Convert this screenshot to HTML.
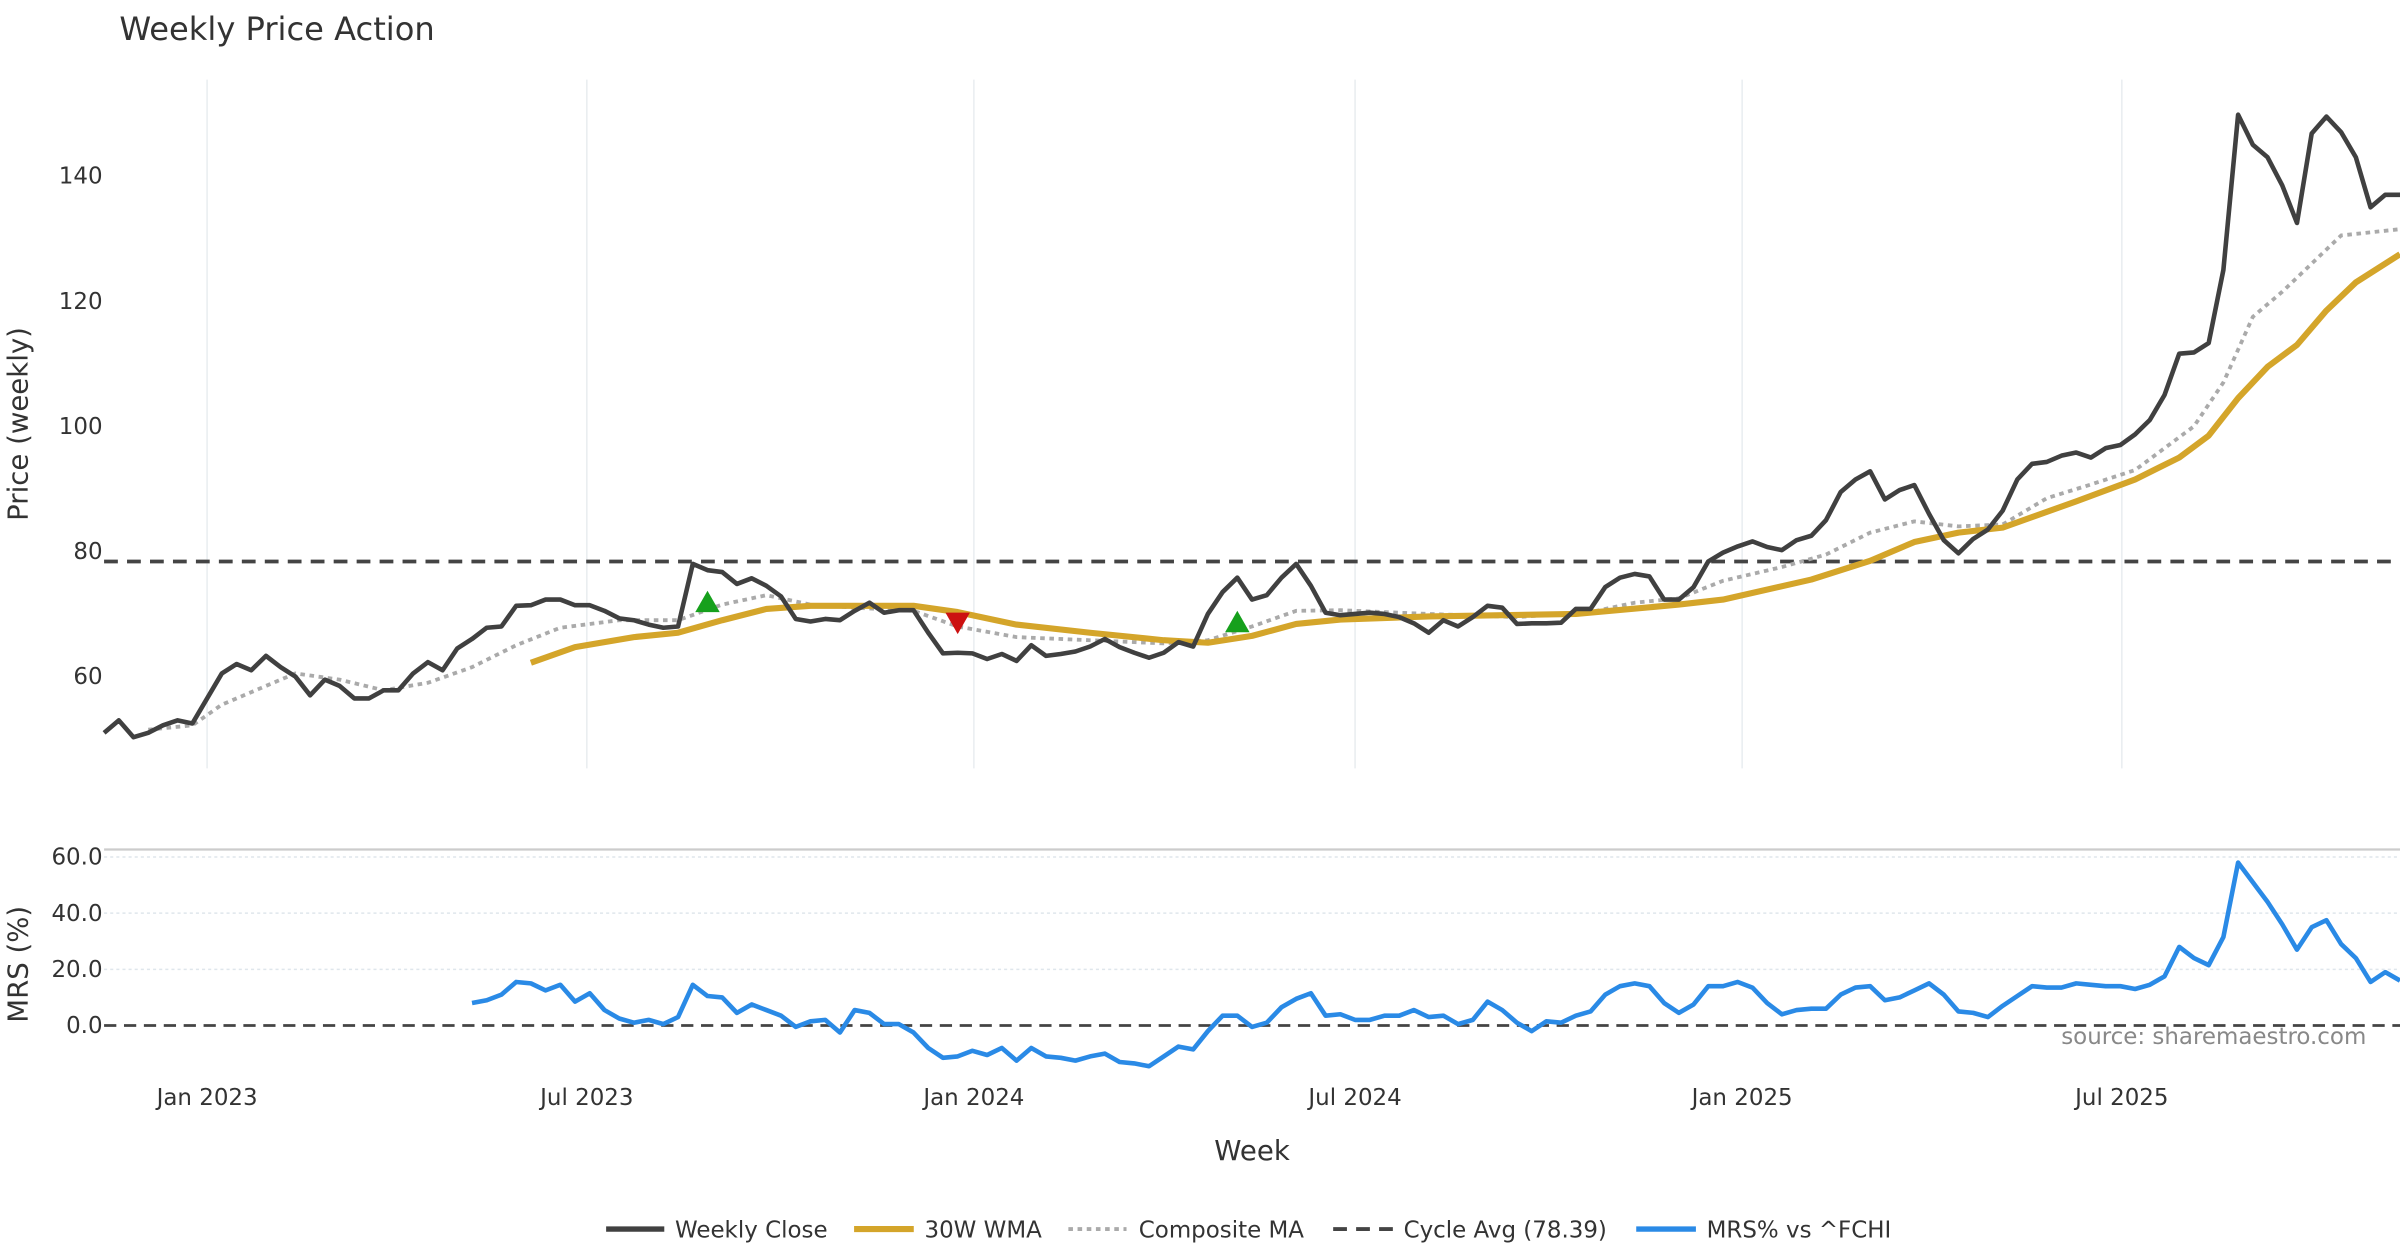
<!DOCTYPE html>
<html><head><meta charset="utf-8">
<style>
html,body{margin:0;padding:0;background:#fff;}
svg{display:block;font-family:"DejaVu Sans","Liberation Sans",sans-serif;}
</style></head>
<body>
<svg id="chart" xmlns="http://www.w3.org/2000/svg" width="2400" height="1260" viewBox="0 0 1568 823.2">
<rect width="1568" height="823.2" fill="#fff"/>
<text x="78" y="26" font-size="21" fill="#333">Weekly Price Action</text>
<g id="grid"></g>
<g id="price"></g>
<g id="mrs"></g>
<text transform="translate(18,277) rotate(-90)" text-anchor="middle" font-size="18" fill="#333">Price (weekly)</text>
<text transform="translate(18,630) rotate(-90)" text-anchor="middle" font-size="18" fill="#333">MRS (%)</text>
<text x="818" y="758" text-anchor="middle" font-size="18" fill="#333">Week</text>
<text x="1546" y="682" text-anchor="end" font-size="15" fill="#888">source: sharemaestro.com</text>
<g font-size="15" fill="#333">
  <g><line x1="396" y1="803" x2="434" y2="803" stroke="#404040" stroke-width="3.5"/><text x="441" y="808.5">Weekly Close</text></g>
  <g><line x1="558" y1="803" x2="597" y2="803" stroke="#d4a52a" stroke-width="4"/><text x="604" y="808.5">30W WMA</text></g>
  <g><line x1="698" y1="803" x2="736" y2="803" stroke="#aaa" stroke-width="2.5" stroke-dasharray="3,3"/><text x="744" y="808.5">Composite MA</text></g>
  <g><line x1="871" y1="803" x2="910" y2="803" stroke="#444" stroke-width="2.5" stroke-dasharray="9,6"/><text x="917" y="808.5">Cycle Avg (78.39)</text></g>
  <g><line x1="1069" y1="803" x2="1108" y2="803" stroke="#2a8ae6" stroke-width="3.5"/><text x="1115" y="808.5">MRS% vs ^FCHI</text></g>
</g>
</svg>
<script>
const closeValues=[51,53,50.3,51,52.2,53,52.5,56.5,60.5,62,61,63.3,61.5,60,57,59.5,58.5,56.5,56.5,57.8,57.8,60.5,62.3,61,64.5,66,67.8,68,71.3,71.4,72.3,72.3,71.4,71.4,70.5,69.3,69,68.3,67.8,68,78,77,76.7,74.8,75.7,74.5,72.8,69.2,68.8,69.2,69,70.5,71.8,70.2,70.6,70.6,67,63.7,63.8,63.7,62.8,63.6,62.5,65,63.3,63.6,64,64.8,66,64.7,63.8,63,63.8,65.5,64.8,70,73.5,75.8,72.3,73,75.8,78,74.5,70.2,69.8,70,70.2,70,69.5,68.5,67,69,68,69.5,71.3,71,68.4,68.5,68.5,68.6,70.8,70.8,74.3,75.8,76.4,76,72.3,72.3,74.3,78.4,79.8,80.8,81.6,80.7,80.2,81.8,82.5,85,89.5,91.5,92.8,88.3,89.8,90.6,86,81.8,79.7,82,83.5,86.5,91.5,94,94.3,95.3,95.8,95,96.5,97,98.7,101,105,111.6,111.8,113.3,125,149.8,145,143,138.5,132.5,146.8,149.5,147,143,135,137,137];
const wmaWeeks=[29,32,36,39,42,45,48,55,58,62,67,72,75,78,81,84,90,100,107,110,116,120,123,126,129,134,138,141,143,145,147,149,151,153,156];
const wmaValues=[62.2,64.7,66.3,67,69,70.8,71.3,71.3,70.3,68.3,67,65.8,65.4,66.5,68.4,69.1,69.6,70,71.5,72.3,75.5,78.5,81.5,83,83.8,88,91.5,95,98.5,104.5,109.5,113,118.5,123,127.5];
const compWeeks=[3,6,8,11,13,16,19,22,25,28,31,35,39,42,45,48,51,55,58,62,67,72,75,78,81,84,90,96,101,104,107,110,114,117,120,123,126,129,132,135,138,140,142,144,146,148,150,152,154,156];
const compValues=[51.5,52.2,55.5,58.5,60.5,59.5,57.8,59,61.5,65,67.8,69,69,71.5,73,71.5,71,70.5,68,66.3,65.8,65.3,65.8,68,70.5,70.6,70,69.5,70.3,71.8,72.5,75.3,77.5,79.5,83,84.8,84,84.3,88.5,90.7,93,96.5,100,107,117.5,121.5,126,130.5,131,131.5];
const cycleAvg=78.39;
const buyWeeks=[41,77];
const buyPrices=[72,68.8];
const sellWeeks=[58];
const sellPrices=[68.5];
const mrsStart=25;
const mrsValues=[8,9,11,15.5,15,12.5,14.5,8.5,11.5,5.5,2.5,1,2,0.5,3,14.5,10.5,10,4.5,7.5,5.5,3.5,-0.5,1.5,2,-2.5,5.5,4.5,0.5,0.5,-2.5,-8,-11.5,-11,-9,-10.5,-8,-12.5,-8,-11,-11.5,-12.5,-11,-10,-13,-13.5,-14.5,-11,-7.5,-8.5,-2,3.5,3.5,-0.5,1,6.5,9.5,11.5,3.5,4,2,2,3.5,3.5,5.5,3,3.5,0.5,2,8.5,5.5,1,-2,1.5,1,3.5,5,11,14,15,14,8,4.5,7.5,14,14,15.5,13.5,8,4,5.5,6,6,11,13.5,14,9,10,12.5,15,11,5,4.5,3,7,10.5,14,13.5,13.5,15,14.5,14,14,13,14.5,17.5,28,24,21.5,31.5,58,51,44,36,27,35,37.5,29,24,15.5,19,16];
const priceTicks=[60,80,100,120,140];
const mrsTicks=[0,20,40,60];
const monthLabels=["Jan 2023","Jul 2023","Jan 2024","Jul 2024","Jan 2025","Jul 2025"];
const monthWeeks=[7,32.8,59.1,85.0,111.3,137.1];

const NS="http://www.w3.org/2000/svg";
const x=i=>68+i*(1500/156);
const yP=v=>442-(v-60)*4.0875;
const yM=v=>670-v*1.835;
function mk(tag,attrs,parent){const e=document.createElementNS(NS,tag);for(const k in attrs)e.setAttribute(k,attrs[k]);parent.appendChild(e);return e;}
const grid=document.getElementById('grid'),price=document.getElementById('price'),mrs=document.getElementById('mrs');

monthWeeks.forEach((w,k)=>{
  const gl=mk('line',{x1:x(w),x2:x(w),y1:52,y2:502,stroke:'#e9edf0','stroke-width':1},grid);
  
  
  const t=mk('text',{x:x(w),y:722,'text-anchor':'middle','font-size':15,fill:'#333'},grid);
  t.textContent=monthLabels[k];
  
  
});
priceTicks.forEach(v=>{
  const t=mk('text',{x:67,y:yP(v)+5,'text-anchor':'end','font-size':15,fill:'#333'},grid);
  t.textContent=v;
  
  
});
mk('line',{x1:68,x2:1568,y1:555,y2:555,stroke:'#ccc','stroke-width':1.5},grid);
mrsTicks.forEach(v=>{
  if(v!==0){const l=mk('line',{x1:68,x2:1568,y1:yM(v),y2:yM(v),stroke:'#dfe6ec','stroke-width':1,'stroke-dasharray':'2,2'},grid);
  
  }
  const t=mk('text',{x:67,y:yM(v)+5,'text-anchor':'end','font-size':15,fill:'#333'},grid);
  t.textContent=v.toFixed(1);
  
  
});

const ca=mk('line',{x1:68,x2:1568,y1:yP(cycleAvg),y2:yP(cycleAvg),stroke:'#444','stroke-width':2.5,'stroke-dasharray':'9,6'},price);



function poly(xs,ys,attrs,parent){return mk('polyline',Object.assign({points:xs.map((v,i)=>v+','+ys[i]).join(' '),fill:'none','stroke-linejoin':'round'},attrs),parent);}
const cm=poly(compWeeks.map(x),compValues.map(yP),{stroke:'#aaa','stroke-width':2.5,'stroke-dasharray':'3,3'},price);


const wm=poly(wmaWeeks.map(x),wmaValues.map(yP),{stroke:'#d4a52a','stroke-width':4},price);


const cl=poly(closeValues.map((v,i)=>x(i)),closeValues.map(yP),{stroke:'#404040','stroke-width':3},price);


buyWeeks.forEach((w,k)=>{const cx=x(w),cy=yP(buyPrices[k]);
  const m=mk('polygon',{points:`${cx-8},${cy+7} ${cx+8},${cy+7} ${cx},${cy-7}`,fill:'#16a01c'},price);
  
  });
sellWeeks.forEach((w,k)=>{const cx=x(w),cy=yP(sellPrices[k]);
  const m=mk('polygon',{points:`${cx-8},${cy-7} ${cx+8},${cy-7} ${cx},${cy+7}`,fill:'#cc1111'},price);
  
  });

const z=mk('line',{x1:68,x2:1568,y1:yM(0),y2:yM(0),stroke:'#444','stroke-width':1.8,'stroke-dasharray':'8,5'},mrs);


const ml=poly(mrsValues.map((v,i)=>x(mrsStart+i)),mrsValues.map(yM),{stroke:'#2a8ae6','stroke-width':3},mrs);


</script>
</body></html>
